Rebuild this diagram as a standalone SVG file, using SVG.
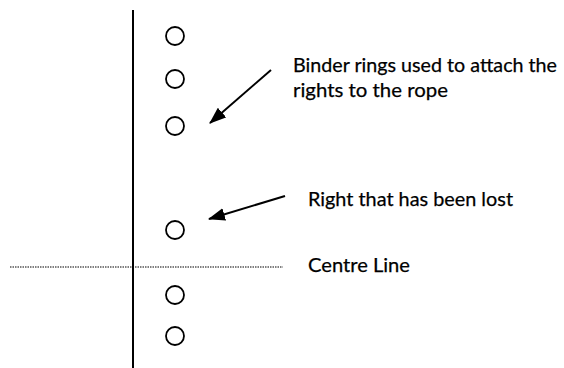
<svg xmlns="http://www.w3.org/2000/svg" width="564" height="368" viewBox="0 0 564 368">
<style>
.ring{fill:none;stroke:#000;stroke-width:1.8}
.lbl{font-family:Lato,"Open Sans","Liberation Sans",sans-serif;font-size:20px;fill:#000;stroke:#000;stroke-width:0.25}
.arr{stroke:#000;stroke-width:2;fill:none}
</style>
<defs>
<marker id="ah" viewBox="0 0 16 12" refX="15" refY="6" markerWidth="8.5" markerHeight="6.5" markerUnits="strokeWidth" orient="auto">
<path d="M0,0 L16,6 L0,12 z" fill="#000"/>
</marker>
</defs>
<rect width="564" height="368" fill="#fff"/>
<g id="rope"><line x1="133" y1="10" x2="133" y2="368" stroke="#000" stroke-width="2"/></g>
<g id="centre-line"><line x1="10" y1="267" x2="283" y2="267" stroke="#000" stroke-width="1.2" stroke-dasharray="1.5 1"/></g>
<g id="ring1"><ellipse class="ring" cx="175" cy="36" rx="9" ry="9"/></g>
<g id="ring2"><ellipse class="ring" cx="175" cy="79" rx="9" ry="9"/></g>
<g id="ring3"><ellipse class="ring" cx="175" cy="126" rx="9" ry="9"/></g>
<g id="ring4"><ellipse class="ring" cx="175" cy="230" rx="9" ry="9"/></g>
<g id="ring5"><ellipse class="ring" cx="175" cy="295" rx="9" ry="9"/></g>
<g id="ring6"><ellipse class="ring" cx="175" cy="336" rx="9" ry="9"/></g>
<g id="label-binder"><text class="lbl" x="293" y="72" textLength="264" lengthAdjust="spacingAndGlyphs">Binder rings used to attach the</text><text class="lbl" x="293" y="97" textLength="155" lengthAdjust="spacingAndGlyphs">rights to the rope</text></g>
<g id="label-lost"><text class="lbl" x="308" y="206" textLength="205" lengthAdjust="spacingAndGlyphs">Right that has been lost</text></g>
<g id="label-centre"><text class="lbl" x="308" y="272" textLength="102" lengthAdjust="spacingAndGlyphs">Centre Line</text></g>
<g id="connectors">
<line class="arr" x1="271" y1="70" x2="210" y2="123" marker-end="url(#ah)"/>
<line class="arr" x1="285" y1="196" x2="209" y2="219" marker-end="url(#ah)"/>
</g>
</svg>
